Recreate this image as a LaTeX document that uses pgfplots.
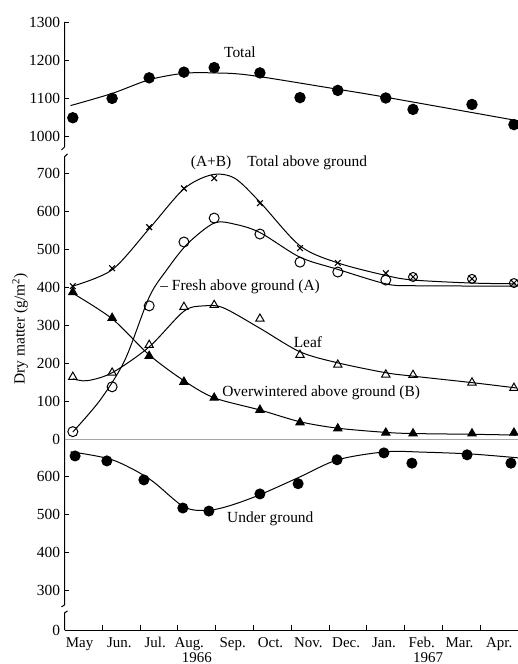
\documentclass[border=0pt]{standalone}
\usepackage{pgfplots}
\pgfplotsset{compat=1.18}
\usepackage{fontspec}
\setmainfont{Liberation Serif}
\usetikzlibrary{plotmarks}
\begin{document}
\begin{tikzpicture}
\begin{axis}[
  at={(64.5bp,34bp)}, anchor=south west,
  scale only axis, width=453.6bp, height=608bp,
  xmin=0, xmax=12, ymin=0, ymax=1600,
  clip=false,
  axis line style={draw=none},
  xtick pos=bottom, ytick pos=left,
  tick align=inside,
  xtick={1,...,11}, xticklabels={},
  ytick={0,103,203,303,403,501,601,701,801,901,1001,1101,1201,1300,1400,1500,1600},
  yticklabels={0,300,400,500,600,0,100,200,300,400,500,600,700,1000,1100,1200,1300},
  major tick length=5bp,
  tick style={black, line width=0.9bp},
  yticklabel style={font=\fontsize{15.5}{15.5}\selectfont, xshift=-1bp},
  /pgf/number format/assume math mode=true,
  every axis plot/.append style={line width=1bp, black},
]
% axis lines
\draw[line width=1bp] (axis cs:0,0) -- (axis cs:12,0);
\draw[line width=1bp] (axis cs:0,0) -- (axis cs:0,45) -- ++(3bp,2bp);
\draw[line width=1bp] (axis cs:0,66) ++(-3bp,-2bp) -- (axis cs:0,66) -- (axis cs:0,1245) -- ++(3bp,3bp);
\draw[line width=1bp] (axis cs:0,1271) ++(-3bp,-3bp) -- (axis cs:0,1271) -- (axis cs:0,1600);
\draw[gray!70, line width=0.8bp] (axis cs:0,501) -- (axis cs:12,501);

% ---- Total (top segment, offset +300)
\addplot[smooth, tension=0.5, y filter/.expression={y+300}] coordinates {
(0.16,1080) (1.26,1112) (2.24,1148) (3.16,1165) (3.96,1166) (4.9,1160) (7.23,1123) (8.5,1102) (12,1040)};
\addplot[only marks, mark=*, mark size=5.2bp, y filter/.expression={y+300}] coordinates {
(0.22,1048) (1.26,1099) (2.24,1153) (3.16,1168) (3.96,1180) (5.17,1166) (6.23,1101) (7.23,1120) (8.5,1100) (9.22,1070) (10.78,1083) (11.89,1030)};

% ---- Total above ground A+B (offset +501)
\addplot[smooth, tension=0.5, y filter/.expression={y+501}] coordinates {
(0.22,404) (1.26,447) (2.24,555) (3.16,660) (3.9,697) (4.5,688) (5.17,625) (6.23,510) (7.23,465) (8.5,432) (9.22,420) (10.78,412) (11.95,410)};
\addplot[only marks, mark=x, mark size=4bp, mark options={line width=1.1bp}, y filter/.expression={y+501}] coordinates {
(0.22,404) (1.26,451) (2.24,559) (3.16,661) (3.96,688) (5.17,622) (6.23,504) (7.23,465) (8.5,438)};
\addplot[only marks, mark=otimes, mark size=4.5bp, mark options={line width=1bp}, y filter/.expression={y+501}] coordinates {
(9.22,428) (10.78,423) (11.89,412)};

% ---- Fresh above ground A
\addplot[smooth, tension=0.5, y filter/.expression={y+501}] coordinates {
(0.22,20) (0.95,105) (1.6,210) (2.24,375) (2.7,446) (3.25,515) (3.96,570) (4.5,567) (5.17,545) (6.23,480) (7.23,448) (8.5,410) (9.22,405) (11.95,404)};
\addplot[only marks, mark=o, mark size=5bp, mark options={line width=1bp, fill=white}, y filter/.expression={y+501}] coordinates {
(0.22,21) (1.26,139) (2.24,352) (3.16,520) (3.96,583) (5.17,541) (6.23,467) (7.23,441) (8.5,420)};

% ---- Leaf
\addplot[smooth, tension=0.5, y filter/.expression={y+501}] coordinates {
(0.22,160) (0.6,155) (1.26,176) (2.24,244) (3.16,338) (3.7,352) (4.2,347) (5.17,293) (6.23,231) (7.23,202) (8.5,176) (9.22,167) (10.78,150) (11.95,136)};
\addplot[only marks, mark=triangle, mark size=4.8bp, mark options={line width=1bp, fill=white}, y filter/.expression={y+501}] coordinates {
(0.22,165) (1.26,176) (2.24,249) (3.16,349) (3.96,354) (5.17,318) (6.23,223) (7.23,197) (8.5,171) (9.22,170) (10.78,150) (11.89,136)};

% ---- Overwintered above ground B
\addplot[smooth, tension=0.5, y filter/.expression={y+501}] coordinates {
(0.22,385) (1.26,318) (2.24,223) (3.16,155) (3.96,110) (5.17,78) (6.23,47) (7.23,30) (8.5,19) (9.22,16) (10.78,14) (11.95,12)};
\addplot[only marks, mark=triangle*, mark size=4.8bp, y filter/.expression={y+501}] coordinates {
(0.22,388) (1.26,320) (2.24,220) (3.16,152) (3.96,110) (5.17,78) (6.23,45) (7.23,29) (8.5,18) (9.22,16) (10.78,16) (11.89,18)};

% ---- Under ground (offset -197)
\addplot[smooth, tension=0.5, y filter/.expression={y-197}] coordinates {
(0.16,666) (1.26,645) (2.24,595) (3.16,521) (3.8,512) (4.4,525) (5.17,553) (6.23,600) (7.23,645) (8.5,666) (9.5,665) (10.78,660) (12,650)};
\addplot[only marks, mark=*, mark size=5bp, y filter/.expression={y-197}] coordinates {
(0.28,655) (1.12,642) (2.1,592) (3.13,518) (3.82,510) (5.17,555) (6.18,582) (7.21,645) (8.45,663) (9.19,636) (10.65,658) (11.81,636)};

% ---- annotations
\begin{scope}[every node/.style={font=\fontsize{15.5}{15.5}\selectfont, inner sep=0pt}]
\node at (axis cs:4.64,1521) {Total};
\node at (axis cs:3.88,1229) {(A+B)};
\node[anchor=west] at (axis cs:4.83,1229) {Total above ground};
\node[anchor=west] at (axis cs:2.53,903) {\textendash\ Fresh above ground (A)};
\node at (axis cs:6.44,758) {Leaf};
\node[anchor=west] at (axis cs:4.17,624) {Overwintered above ground (B)};
\node[anchor=west] at (axis cs:4.3,292) {Under ground};
\end{scope}
\begin{scope}[every node/.style={font=\fontsize{15}{15}\selectfont, inner sep=0pt, anchor=base}]
\node at (axis cs:0.4,-47) {May};
\node at (axis cs:1.45,-47) {Jun.};
\node at (axis cs:2.4,-47) {Jul.};
\node at (axis cs:3.3,-47) {Aug.};
\node at (axis cs:4.45,-47) {Sep.};
\node at (axis cs:5.45,-47) {Oct.};
\node at (axis cs:6.45,-47) {Nov.};
\node at (axis cs:7.45,-47) {Dec.};
\node at (axis cs:8.45,-47) {Jan.};
\node at (axis cs:9.45,-47) {Feb.};
\node at (axis cs:10.45,-47) {Mar.};
\node at (axis cs:11.5,-47) {Apr.};
\node at (axis cs:3.5,-85) {1966};
\node at (axis cs:9.62,-85) {1967};
\end{scope}
\end{axis}
\node[rotate=90, font=\fontsize{15.5}{15.5}\selectfont, inner sep=0pt] at (20bp,335bp) {Dry matter (g/m\textsuperscript{2})};
\pgfresetboundingbox
\path (0,0) rectangle (518bp,664bp);
\end{tikzpicture}
\end{document}
